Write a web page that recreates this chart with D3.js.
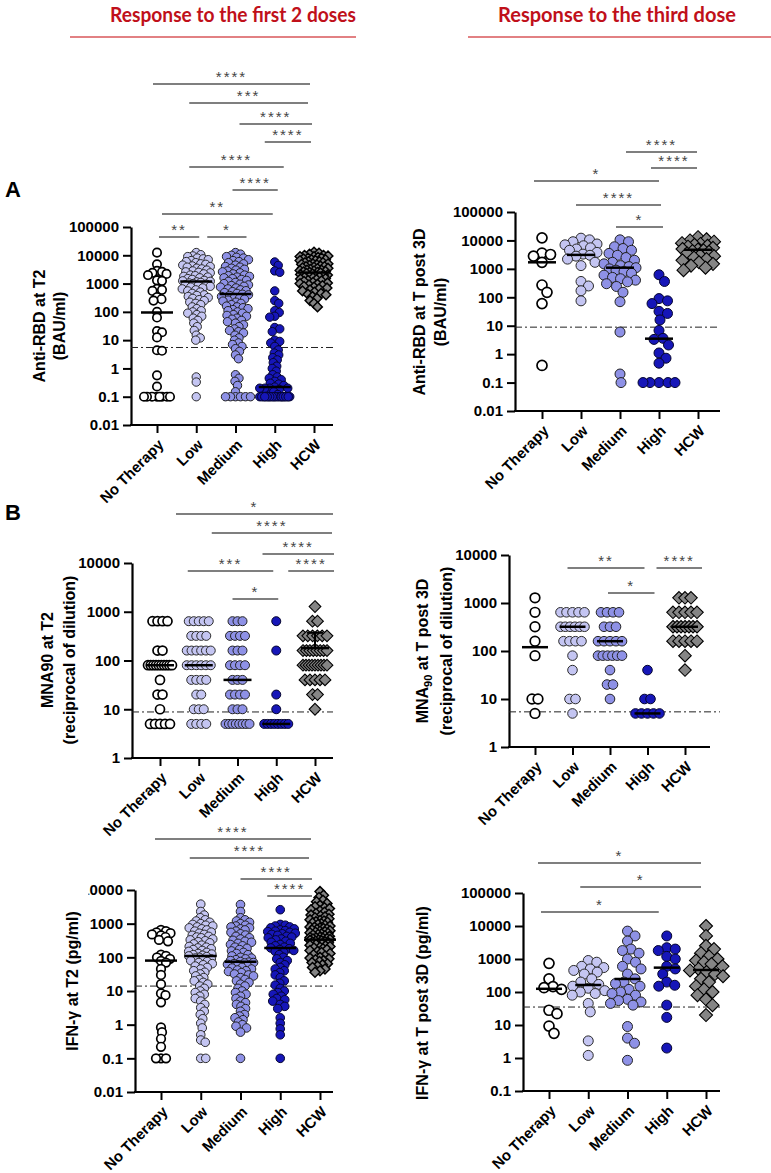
<!DOCTYPE html>
<html><head><meta charset="utf-8">
<script src="https://cdn.jsdelivr.net/npm/d3@7"></script>
<style>
body{margin:0;background:#fff}
svg{display:block;font-family:"Liberation Sans",Arial,sans-serif;opacity:0.999}
</style>
</head><body>
<svg id="chart" width="771" height="1173"></svg>
<script>
// ---------------- DATA ----------------
const categories = ["No Therapy", "Low", "Medium", "High", "HCW"];
const titles = ["Response to the first 2 doses", "Response to the third dose"];
const panelLetters = ["A", "B"];

// Anti-RBD at T2 (BAU/ml) – one array per group (No Therapy, Low, Medium, High, HCW)
const rbdT2 = [
  [12400,4800,2800,2600,2400,2200,2000,1300,1250,650,600,550,330,280,250,100,63,21,19,12.5,4.4,4.2,0.57,0.23,0.1,0.1,0.1,0.1,0.1,0.1,0.1,0.1],
  [12500,10500,9500,9000,8000,7500,7000,6500,6000,5500,5000,4800,4500,4200,4000,3800,3500,3300,3000,2800,2600,2500,2400,2200,2000,1900,1800,1700,1600,1500,1400,1300,1250,1200,1150,1100,1050,1000,950,900,850,800,750,700,650,600,550,500,450,400,380,350,320,300,270,250,220,200,180,150,130,110,100,90,80,70,60,50,40,30,22,15,12,10,0.5,0.33,0.1],
  [12500,11000,10000,9000,8500,8000,7000,6500,6000,5500,5000,4500,4000,3800,3500,3200,3000,2800,2600,2400,2200,2000,1900,1800,1700,1600,1500,1400,1300,1200,1100,1000,950,900,850,800,750,700,650,600,560,520,480,450,420,400,380,350,320,300,280,260,240,220,200,180,160,150,140,130,120,110,100,90,80,75,70,60,55,50,45,40,35,30,25,22,20,18,15,12,10,8,7,6,5,4,3,2.2,0.6,0.45,0.35,0.25,0.15,0.1,0.1,0.1,0.1,0.1,0.1],
  [5800,4400,2800,2500,550,250,200,110,95,70,65,28,25,20,10,9,8,6,4.5,3.5,3,2.4,2,1.6,1.2,1,0.8,0.6,0.5,0.45,0.4,0.35,0.3,0.28,0.25,0.22,0.2,0.2,0.2,0.2,0.18,0.15,0.12,0.1,0.1,0.1,0.1,0.1,0.1,0.1,0.1,0.1,0.1,0.1,0.1,0.1,0.1,0.1,0.1,0.1,0.1,0.1,0.1,0.1,0.1,0.1,0.1],
  [13000,12000,11000,10000,10000,9500,9000,9000,8500,8000,8000,7500,7000,7000,6500,6500,6000,6000,5500,5500,5000,5000,4800,4600,4400,4200,4000,4000,3800,3600,3500,3400,3200,3000,3000,2900,2800,2700,2600,2500,2500,2400,2300,2200,2100,2000,2000,1900,1800,1700,1650,1600,1500,1450,1400,1300,1250,1200,1100,1050,1000,950,900,850,800,750,700,650,600,550,500,450,420,400,350,300,250,200,150]
];
const rbdT2Median = [95, 1180, 430, 0.22, 2450];
const rbdT2Cutoff = 5.5;
const rbdT2Sig = [[0,4,"****"],[1,4,"***"],[2,4,"****"],[3,4,"****"],[1,3,"****"],[2,3,"****"],[0,3,"**"],[0,1,"**"],[1,2,"*"]];

// Anti-RBD at T post 3D (BAU/ml)
const rbd3D = [
  [12300,3600,3200,2800,1700,270,150,60,0.4],
  [12000,10500,9000,7500,7000,6500,5500,5000,4500,3800,3300,3000,2800,2200,1700,1300,360,250,170,75],
  [10500,9000,6000,5200,4500,3500,3000,2500,2000,1700,1500,1300,1200,1100,1000,900,800,700,600,500,450,400,350,300,240,150,70,6,0.2,0.1],
  [620,360,90,75,60,32,27,16,6.8,3.6,3.3,2.1,1.1,0.72,0.48,0.1,0.1,0.1,0.1,0.1],
  [13000,11000,10000,9000,8000,7500,7000,6500,6000,5500,5000,4800,4500,4200,4000,3500,3000,2800,2500,2200,2000,1700,1500,1300,1100,900]
];
const rbd3DMedian = [1700, 3100, 1100, 3.5, 4700];
const rbd3DCutoff = 8.9;
const rbd3DSig = [[2,4,"****"],[3,4,"****"],[0,3,"*"],[1,3,"****"],[2,3,"*"]];

// MNA90 at T2 (reciprocal of dilution)
const mnaT2 = [
  [640,640,640,640,160,160,80,80,80,80,80,80,80,80,80,80,40,20,20,10,5,5,5,5,5],
  [640,640,640,640,640,320,320,320,320,160,160,160,160,160,160,80,80,80,80,80,80,40,40,40,40,20,20,10,10,10,5,5,5,5],
  [640,640,640,320,320,320,320,160,160,160,80,80,80,80,40,40,40,20,20,20,20,10,10,10,5,5,5,5,5,5,5,5],
  [640,160,20,10,5,5,5,5,5,5,5,5],
  [1280,640,640,320,320,320,320,320,320,160,160,160,160,160,160,160,160,80,80,80,80,80,80,80,80,80,40,40,40,40,40,20,20,10]
];
const mnaT2Median = [80, 80, 40, 5, 180];
const mnaT2HcwUpper = 370;   // upper error bar of the HCW group
const mnaT2Cutoff = 8.8;
const mnaT2Sig = [[0,4,"*"],[1,4,"****"],[2,4,"****"],[1,3,"***"],[3,4,"****"],[2,3,"*"]];

// MNA90 at T post 3D
const mna3D = [
  [1280,640,320,160,80,10,10,5],
  [640,640,640,640,640,320,320,320,320,320,320,160,160,160,160,80,40,10,10,5],
  [640,640,640,640,320,320,320,160,160,160,160,160,80,80,80,80,80,80,40,20,20,10],
  [40,10,10,5,5,5,5,5],
  [1280,1280,1280,640,640,640,640,640,320,320,320,320,320,320,320,160,160,160,160,160,80,40]
];
const mna3DMedian = [120, 320, 160, 5, 320];
const mna3DCutoff = 5.4;
const mna3DSig = [[1,3,"**"],[2,3,"*"],[3,4,"****"]];

// IFN-gamma at T2 (pg/ml)
const ifnT2 = [
  [650,600,550,520,480,450,400,330,300,120,110,100,90,78,70,45,30,16,8.5,7.5,4.6,0.83,0.6,0.38,0.22,0.1,0.1,0.1],
  [3800,2300,1800,1500,1300,1200,1100,1000,950,900,850,800,750,700,650,600,560,520,480,450,420,400,380,350,330,310,290,270,250,230,210,200,190,180,170,160,150,140,130,125,120,115,110,105,100,95,90,85,80,75,70,65,60,55,50,45,40,36,32,28,25,22,20,18,16,14,12,10,9,8,7,6,5,4,3.2,2.5,2,1.5,1.1,0.8,0.5,0.35,0.3,0.1,0.1],
  [3700,2300,1500,1300,1200,1100,1000,900,850,800,750,700,650,600,550,500,460,420,380,350,320,300,280,260,240,220,200,185,170,155,140,130,120,110,100,95,90,85,80,75,72,70,68,65,62,60,55,50,48,45,42,40,38,35,32,30,28,25,22,20,18,16,14,12,10,9,8,7,6,5,4.5,4,3.5,3,2.5,2,1.8,1.6,1.4,1.2,1,0.9,0.8,0.6,0.1],
  [2600,950,900,850,800,750,700,650,620,600,580,550,520,500,480,450,420,400,380,350,330,300,280,260,240,220,200,190,180,170,160,150,140,120,100,90,80,70,60,50,45,40,35,30,25,20,17,15,12,10,9,8,7,6,5.5,5,4,3.5,3,1.6,1.1,0.75,0.5,0.1],
  [9000,7000,6000,5000,4500,4000,3500,3200,3000,2800,2600,2400,2200,2000,1900,1800,1700,1600,1500,1400,1300,1250,1200,1150,1100,1050,1000,950,900,850,800,780,750,720,700,680,650,620,600,580,560,540,520,500,480,460,440,420,400,390,380,370,360,350,340,330,320,310,300,290,280,270,260,250,240,230,220,210,200,190,180,170,160,150,140,130,120,110,100,95,90,85,80,75,70,65,60,55,50,45,40,36]
];
const ifnT2Median = [80, 110, 74, 190, 335];
const ifnT2Cutoff = 14;
const ifnT2Sig = [[0,4,"****"],[1,4,"****"],[2,4,"****"],[3,4,"****"]];

// IFN-gamma at T post 3D (pg/ml)
const ifn3D = [
  [740,250,145,135,120,28,22,9.3,5.6],
  [900,800,600,550,500,450,400,350,250,200,170,150,130,110,100,90,80,45,25,3.3,1.2],
  [7000,5000,3500,2000,1800,1500,1000,800,600,500,350,250,200,180,150,120,100,90,80,60,55,50,45,40,9,4,2.8,0.85],
  [5000,2200,2000,1800,1200,1000,600,500,350,200,160,150,40,17,2],
  [10000,5000,2500,2000,1500,1200,1000,900,800,700,600,500,450,400,350,300,250,200,150,120,100,80,60,40,20]
];
const ifn3DMedian = [125, 163, 248, 547, 465];
const ifn3DCutoff = 35;
const ifn3DSig = [[0,4,"*"],[1,4,"*"],[0,3,"*"]];

// Tick values and labels
const rbdTicks = [0.01, 0.1, 1, 10, 100, 1000, 10000, 100000];
const rbdTickLabels = ["0.01", "0.1", "1", "10", "100", "1000", "10000", "100000"];
const mnaTicks = [1, 10, 100, 1000, 10000];
const mnaTickLabels = ["1", "10", "100", "1000", "10000"];
const ifnT2Ticks = [0.01, 0.1, 1, 10, 100, 1000, 10000];
const ifnT2TickLabels = ["0.01", "0.1", "1", "10", "100", "1000", "10000"];
const ifn3DTicks = [0.1, 1, 10, 100, 1000, 10000, 100000];
const ifn3DTickLabels = ["0.1", "1", "10", "100", "1000", "10000", "100000"];

// ---------------- STYLE / LAYOUT ----------------
const svg = d3.select("#chart");
const FONT = '"Liberation Sans", Arial, sans-serif';
const groupStyle = [
  {shape: "circle", fill: "#ffffff", stroke: "#000000", sw: 1.7},
  {shape: "circle", fill: "#c4c5f2", stroke: "#2a2a2a", sw: 1},
  {shape: "circle", fill: "#8e91e6", stroke: "#222222", sw: 1},
  {shape: "circle", fill: "#1616b8", stroke: "#05052e", sw: 1},
  {shape: "diamond", fill: "#858585", stroke: "#000000", sw: 1.1}
];

// Titles
const titleLayout = [{cx: 233, len: 246, lx1: 70, lx2: 356}, {cx: 617, len: 238, lx1: 468, lx2: 771}];
titles.forEach((t, i) => {
  const L = titleLayout[i];
  svg.append("text").attr("x", L.cx).attr("y", 22).attr("text-anchor", "middle")
    .attr("font-family", "Lato, 'Open Sans', sans-serif").attr("font-weight", "bold").attr("font-size", 20)
    .attr("fill", "#c0101a").attr("textLength", L.len).attr("lengthAdjust", "spacingAndGlyphs").text(t);
  svg.append("line").attr("x1", L.lx1).attr("x2", L.lx2).attr("y1", 37).attr("y2", 37)
    .attr("stroke", "#d9575a").attr("stroke-width", 1.5);
});
// Panel letters
[[5, 197], [5, 520]].forEach((p, i) => {
  svg.append("text").attr("x", p[0]).attr("y", p[1]).attr("font-family", FONT).attr("font-weight", "bold")
    .attr("font-size", 22).text(panelLetters[i]);
});

function swarmOffsets(ys, d, maxHalf) {
  const n = ys.length, off = new Array(n).fill(0);
  const order = d3.range(n).sort((a, b) => ys[a] - ys[b] || a - b);
  const placed = [];
  const cands = [0];
  for (let k = 0.5; k <= maxHalf + 1e-9; k += 0.5) { cands.push(k, -k); }
  for (const i of order) {
    const y = ys[i];
    const near = placed.filter(p => Math.abs(p[1] - y) < d);
    let chosen = null, bestScore = -1, bestX = 0;
    for (const c of cands) {
      let minD = Infinity;
      for (const p of near) {
        const dx = p[0] - c, dy = p[1] - y;
        const dd = Math.sqrt(dx * dx + dy * dy);
        if (dd < minD) minD = dd;
      }
      if (minD >= d) { chosen = c; break; }
      if (minD > bestScore + 0.3) { bestScore = minD; bestX = c; }
    }
    if (chosen === null) chosen = bestX;
    off[i] = chosen; placed.push([chosen, y]);
  }
  return off;
}
function rowOffsets(ys, sp, maxW) {
  const off = new Array(ys.length).fill(0);
  const groups = d3.group(d3.range(ys.length), i => Math.round(ys[i] * 10));
  for (const [, idx] of groups) {
    const n = idx.length;
    const s = n > 1 ? Math.min(sp, maxW / (n - 1)) : 0;
    idx.forEach((i, k) => off[i] = (k - (n - 1) / 2) * s);
  }
  return off;
}

function drawPanel(cfg) {
  const g = svg.append("g");
  const y = d3.scaleLog().domain(cfg.domain).range([cfg.yBot, cfg.yTop]);
  const x = d3.scalePoint().domain(categories).range([cfg.xFirst, cfg.xLast]);

  // y axis
  const ya = g.append("g").attr("transform", `translate(${cfg.axisX},0)`)
    .call(d3.axisLeft(y).tickValues(cfg.ticks).tickFormat((d, i) => cfg.tickLabels[i])
      .tickSize(8).tickSizeOuter(0).tickPadding(4));
  ya.select(".domain").attr("stroke", "#000").attr("stroke-width", 2.2);
  ya.selectAll(".tick line").attr("stroke", "#000").attr("stroke-width", 2);
  ya.selectAll(".tick text").attr("font-family", FONT).attr("font-weight", "bold").attr("font-size", 15).attr("fill", "#000");
  if (cfg.clipLeft) {
    const id = "clip" + cfg.id;
    svg.append("clipPath").attr("id", id).append("rect")
      .attr("x", cfg.clipLeft - cfg.axisX).attr("y", -20).attr("width", cfg.axisX - cfg.clipLeft).attr("height", 40);
    ya.selectAll(".tick").filter(d => d === cfg.ticks[cfg.ticks.length - 1]).select("text").attr("clip-path", `url(#${id})`);
  }

  // x axis
  g.append("line").attr("x1", cfg.axisX - 1).attr("x2", cfg.xEnd).attr("y1", cfg.yBot).attr("y2", cfg.yBot)
    .attr("stroke", "#000").attr("stroke-width", 2.2);
  const xa = g.append("g").attr("transform", `translate(0,${cfg.yBot})`)
    .call(d3.axisBottom(x).tickSize(8).tickSizeOuter(0).tickFormat(""));
  xa.select(".domain").remove();
  xa.selectAll(".tick line").attr("stroke", "#000").attr("stroke-width", 2);
  categories.forEach(c => {
    g.append("text").attr("transform", `translate(${x(c) + 4},${cfg.yBot + 17}) rotate(-45)`)
      .attr("text-anchor", "end").attr("dy", "0.35em").attr("font-family", FONT).attr("font-weight", "bold")
      .attr("font-size", 15).text(c);
  });

  // y label
  cfg.ylab.forEach((lab, k) => {
    const t = g.append("text").attr("transform", `translate(${cfg.ylabX[k]},${cfg.ylabY}) rotate(-90)`)
      .attr("text-anchor", "middle").attr("font-family", FONT).attr("font-weight", "bold").attr("font-size", 16);
    if (Array.isArray(lab)) {
      t.append("tspan").text(lab[0]);
      t.append("tspan").attr("font-size", 11).attr("dy", 4).text(lab[1]);
      t.append("tspan").attr("dy", -4).text(lab[2]);
    } else t.text(lab);
  });

  // cutoff line
  g.append("line").attr("x1", cfg.axisX).attr("x2", cfg.cutEnd || cfg.xEnd)
    .attr("y1", y(cfg.cutoff)).attr("y2", y(cfg.cutoff))
    .attr("stroke", "#222").attr("stroke-width", 1).attr("stroke-dasharray", "7,3,2,3");

  // points
  cfg.data.forEach((vals, gi) => {
    const st = groupStyle[gi];
    const ys = vals.map(v => y(v));
    const mh = Array.isArray(cfg.maxHalf) ? cfg.maxHalf[gi] : cfg.maxHalf;
    const offs = cfg.mode === "rows" ? rowOffsets(ys, cfg.sp, cfg.maxW) : swarmOffsets(ys, cfg.d, mh);
    const cx = x(categories[gi]);
    const pts = g.append("g");
    vals.forEach((v, i) => {
      const px = cx + offs[i], py = ys[i];
      if (st.shape === "circle") {
        pts.append("circle").attr("cx", px).attr("cy", py).attr("r", cfg.r)
          .attr("fill", st.fill).attr("stroke", st.stroke).attr("stroke-width", st.sw);
      } else {
        const h = cfg.r * (cfg.dia || 1.3);
        pts.append("path").attr("d", `M${px},${py - h}L${px + h},${py}L${px},${py + h}L${px - h},${py}Z`)
          .attr("fill", st.fill).attr("stroke", st.stroke).attr("stroke-width", cfg.diaSw || st.sw);
      }
    });
  });
  // error bar (upper) where present
  if (cfg.upper) {
    const [gi, v] = cfg.upper;
    const cx = x(categories[gi]);
    g.append("line").attr("x1", cx).attr("x2", cx).attr("y1", y(cfg.med[gi])).attr("y2", y(v))
      .attr("stroke", "#000").attr("stroke-width", 2);
    g.append("line").attr("x1", cx - 8).attr("x2", cx + 8).attr("y1", y(v)).attr("y2", y(v))
      .attr("stroke", "#000").attr("stroke-width", 2);
  }
  // medians
  cfg.med.forEach((m, gi) => {
    const cx = x(categories[gi]);
    g.append("line").attr("x1", cx - cfg.medHalf).attr("x2", cx + cfg.medHalf).attr("y1", y(m)).attr("y2", y(m))
      .attr("stroke", "#000").attr("stroke-width", 2.5);
  });

  // significance bars
  cfg.sig.forEach((s, k) => {
    const [i, j, lab] = s;
    const [ly, dx1, dx2] = cfg.sigPos[k];
    const x1 = x(categories[i]) + dx1, x2 = x(categories[j]) + dx2;
    g.append("line").attr("x1", x1).attr("x2", x2).attr("y1", ly).attr("y2", ly)
      .attr("stroke", "#555").attr("stroke-width", 1.4);
    g.append("text").attr("x", (x1 + x2) / 2).attr("y", ly - 2).attr("text-anchor", "middle")
      .attr("font-family", FONT).attr("font-size", 15).attr("letter-spacing", 2)
      .attr("fill", "#444").text(lab);
  });
}

const panels = [
  {id: "p1", data: rbdT2, med: rbdT2Median, cutoff: rbdT2Cutoff, sig: rbdT2Sig, ticks: rbdTicks, tickLabels: rbdTickLabels,
   domain: [0.01, 1e5], axisX: 131, yTop: 227, yBot: 425, xFirst: 157, xLast: 314, xEnd: 333,
   r: 4.2, mode: "swarm", d: 4.8, maxHalf: [13, 14, 15, 15, 14], medHalf: 16, dia: 1.15, diaSw: 1.5,
   ylab: ["Anti-RBD at T2", "(BAU/ml)"], ylabX: [45, 65], ylabY: 326,
   sigPos: [[84,-4,-4],[103,-7,-6],[124,4,-2],[142,-10,-3],[167,-7,9],[190,-3,3],[214,5,-2],[237,2,3],[237,11,11]]},
  {id: "p2", data: rbd3D, med: rbd3DMedian, cutoff: rbd3DCutoff, sig: rbd3DSig, ticks: rbdTicks, tickLabels: rbdTickLabels,
   domain: [0.01, 1e5], axisX: 515, yTop: 212, yBot: 411, xFirst: 542, xLast: 698, xEnd: 720,
   r: 5, mode: "swarm", d: 8.6, maxHalf: 16, medHalf: 14,
   ylab: ["Anti-RBD at T post 3D", "(BAU/ml)"], ylabX: [425, 446], ylabY: 312,
   sigPos: [[152,6,-1],[168,-8,-1],[181,-8,0],[205,-5,2],[227,-4,4]]},
  {id: "p3", data: mnaT2, med: mnaT2Median, cutoff: mnaT2Cutoff, sig: mnaT2Sig, ticks: mnaTicks, tickLabels: mnaTickLabels,
   domain: [1, 1e4], axisX: 132, yTop: 563, yBot: 758, xFirst: 160, xLast: 315, xEnd: 333,
   r: 4.5, mode: "rows", sp: 5, maxW: 24, medHalf: 14, upper: [4, mnaT2HcwUpper],
   ylab: ["MNA90 at T2", "(reciprocal of dilution)"], ylabX: [53, 75], ylabY: 660,
   sigPos: [[514,16,18],[533,13,17],[554,25,19],[571,-11,-3],[571,12,19],[599,-5,2]]},
  {id: "p4", data: mna3D, med: mna3DMedian, cutoff: mna3DCutoff, sig: mna3DSig, ticks: mnaTicks, tickLabels: mnaTickLabels,
   domain: [1, 1e4], axisX: 509, yTop: 555, yBot: 747, xFirst: 535, xLast: 685, xEnd: 710, cutEnd: 720,
   r: 4.8, mode: "rows", sp: 6, maxW: 24, medHalf: 13,
   ylab: [["MNA", "90", " at T post 3D"], "(reciprocal of dilution)"], ylabX: [428, 452], ylabY: 651,
   sigPos: [[568,-5,-3],[593,-2,7],[568,9,17]]},
  {id: "p5", data: ifnT2, med: ifnT2Median, cutoff: ifnT2Cutoff, sig: ifnT2Sig, ticks: ifnT2Ticks, tickLabels: ifnT2TickLabels,
   domain: [0.01, 1e4], axisX: 135, yTop: 890, yBot: 1092, xFirst: 161, xLast: 320, xEnd: 333, clipLeft: 88.5,
   r: 4.3, mode: "swarm", d: 4.8, maxHalf: [13, 12, 13, 15, 10], medHalf: 16, dia: 1.15, diaSw: 1.5,
   ylab: ["IFN-γ at T2 (pg/ml)"], ylabX: [78], ylabY: 981,
   sigPos: [[839,-6,-9],[858,-11,-11],[879,0,-8],[896,-13,-8]]},
  {id: "p6", data: ifn3D, med: ifn3DMedian, cutoff: ifn3DCutoff, sig: ifn3DSig, ticks: ifn3DTicks, tickLabels: ifn3DTickLabels,
   domain: [0.1, 1e5], axisX: 523, yTop: 893, yBot: 1091, xFirst: 549, xLast: 706, xEnd: 720,
   r: 5, mode: "swarm", d: 8.6, maxHalf: 17, medHalf: 13,
   ylab: ["IFN-γ at T post 3D (pg/ml)"], ylabX: [428], ylabY: 1003,
   sigPos: [[863,-11,-5],[887,-8,-5],[912,-8,-8]]}
];
panels.forEach(drawPanel);
</script>
</body></html>
